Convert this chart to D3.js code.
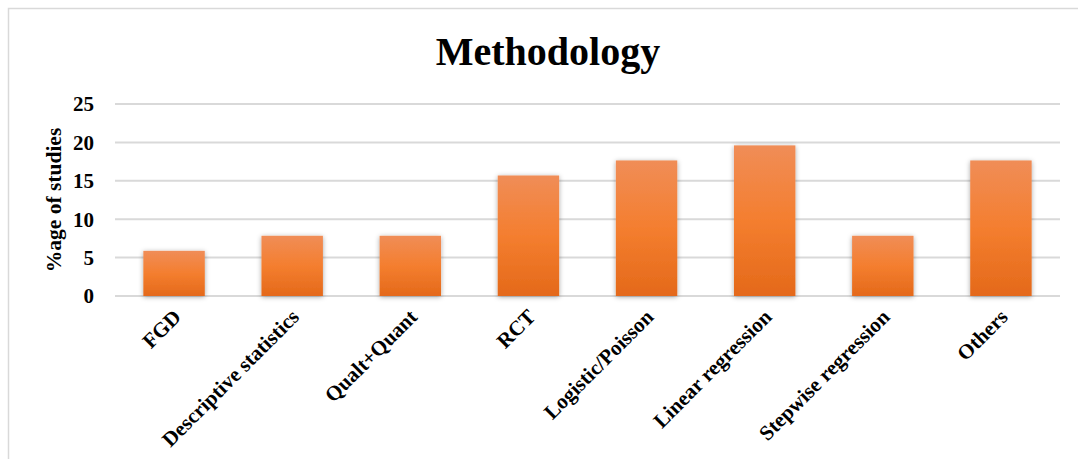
<!DOCTYPE html>
<html>
<head>
<meta charset="utf-8">
<script src="https://cdn.jsdelivr.net/npm/d3@7"></script>
<style>
  html, body { margin: 0; padding: 0; background: #fff; }
  svg { display: block; }
  text { font-family: "Liberation Serif", "Times New Roman", serif; font-weight: bold; fill: #000; }
</style>
</head>
<body>
<script>
const categories = ["FGD", "Descriptive statistics", "Qualt+Quant", "RCT", "Logistic/Poisson", "Linear regression", "Stepwise regression", "Others"];
const values = [5.88, 7.84, 7.84, 15.69, 17.65, 19.61, 7.84, 17.65];
const yTicks = [0, 5, 10, 15, 20, 25];
const titleText = "Methodology";
const yLabel = "%age of studies";

const W = 1078, H = 459;
const svg = d3.select("body").append("svg").attr("width", W).attr("height", H);

const defs = svg.append("defs");
const grad = defs.append("linearGradient").attr("id", "barGrad")
  .attr("x1", 0).attr("y1", 0).attr("x2", 0).attr("y2", 1);
grad.append("stop").attr("offset", "0%").attr("stop-color", "#F08D57");
grad.append("stop").attr("offset", "50%").attr("stop-color", "#F47E2F");
grad.append("stop").attr("offset", "100%").attr("stop-color", "#E4691A");
const filt = defs.append("filter").attr("id", "shadow")
  .attr("x", "-30%").attr("y", "-30%").attr("width", "160%").attr("height", "160%");
filt.append("feDropShadow").attr("dx", 0).attr("dy", 1).attr("stdDeviation", 2.5)
  .attr("flood-color", "#000").attr("flood-opacity", 0.35);

// chart border
svg.append("rect").attr("x", 8.5).attr("y", 8.5).attr("width", W + 20).attr("height", H + 20)
  .attr("fill", "none").attr("stroke", "#d9d9d9").attr("stroke-width", 1.5);

const pLeft = 115, pRight = 1060, pTop = 104, pBottom = 296;
const x = d3.scaleBand().domain(categories).range([pLeft, pRight]).paddingInner(0.48).paddingOuter(0.24);
const y = d3.scaleLinear().domain([0, 25]).range([pBottom, pTop]);

// gridlines
svg.append("g").selectAll("line").data(yTicks).join("line")
  .attr("x1", pLeft).attr("x2", pRight)
  .attr("y1", d => y(d)).attr("y2", d => y(d))
  .attr("stroke", "#d9d9d9").attr("stroke-width", 2);

// y tick labels
svg.append("g").selectAll("text").data(yTicks).join("text")
  .attr("x", 94).attr("y", d => y(d)).attr("dy", "0.35em")
  .attr("text-anchor", "end").attr("font-size", 21).text(d => d);

// bars
svg.append("g").selectAll("rect").data(values).join("rect")
  .attr("x", (d, i) => x(categories[i]))
  .attr("width", x.bandwidth())
  .attr("y", d => y(d))
  .attr("height", d => y(0) - y(d))
  .attr("fill", "url(#barGrad)")
  .attr("filter", "url(#shadow)");

// x labels
svg.append("g").selectAll("text").data(categories).join("text")
  .attr("transform", d => `translate(${x(d) + x.bandwidth() / 2 + 3},${313}) rotate(-45)`)
  .attr("text-anchor", "end").attr("dy", "0.35em").attr("font-size", 21).text(d => d);

// y axis label
svg.append("text")
  .attr("transform", `translate(53,${(pTop + pBottom) / 2 + 0}) rotate(-90)`)
  .attr("text-anchor", "middle").attr("dy", "0.35em").attr("font-size", 21.5).text(yLabel);

// title
svg.append("text").attr("x", 548).attr("y", 65).attr("text-anchor", "middle")
  .attr("font-size", 40).text(titleText);
</script>
</body>
</html>
